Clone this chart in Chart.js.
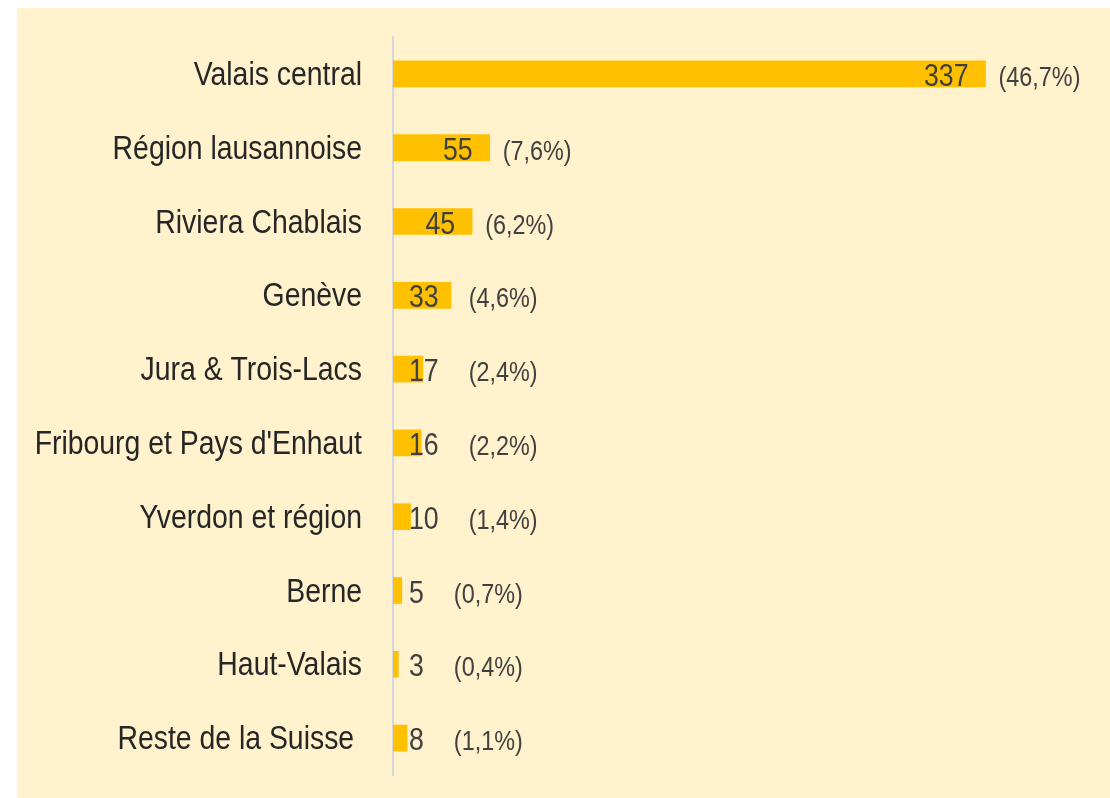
<!DOCTYPE html>
<html>
<head>
<meta charset="utf-8">
<script src="https://cdn.jsdelivr.net/npm/chart.js@4.4.0/dist/chart.umd.min.js"></script>
<style>
    html, body { margin: 0; padding: 0; background: #ffffff; }
    #wrap { width: 1110px; height: 798px; }
</style>
</head>
<body>
<div id="wrap"><canvas id="regions_chart" width="1110" height="798"></canvas></div>
<script>
const regions = [
    'Valais central', 'Région lausannoise', 'Riviera Chablais', 'Genève',
    'Jura & Trois-Lacs', "Fribourg et Pays d'Enhaut", 'Yverdon et région',
    'Berne', 'Haut-Valais', 'Reste de la Suisse '
];

const counts = [337, 55, 45, 33, 17, 16, 10, 5, 3, 8];

const shares = ['46,7', '7,6', '6,2', '4,6', '2,4', '2,2', '1,4', '0,7', '0,4', '1,1'];

// no narrow face installed, so squeeze Liberation Sans horizontally
const FONT = "'Liberation Sans', Arial, sans-serif";
const SQUEEZE = 0.835;

function narrowWidth(ctx, text) {
    return ctx.measureText(text).width * SQUEEZE;
}

function drawNarrow(ctx, text, x, y, align) {
    ctx.save();
    ctx.translate(x, y);
    ctx.scale(SQUEEZE, 1);
    ctx.textAlign = align;
    ctx.textBaseline = 'alphabetic';
    ctx.fillText(text, 0, 0);
    ctx.restore();
}

// cream panel behind everything
const panelBackground = {
    id: 'panelBackground',
    beforeDraw(chart) {
        const ctx = chart.ctx;
        ctx.save();
        ctx.fillStyle = '#FFF2CC';
        ctx.fillRect(17, 8, chart.width - 17, chart.height - 8);
        ctx.restore();
    }
};

// region names left of the axis
const regionLabels = {
    id: 'regionLabels',
    afterDraw(chart) {
        const ctx = chart.ctx;
        const y = chart.scales.y;
        ctx.save();
        ctx.font = '34px ' + FONT;
        ctx.fillStyle = '#262626';
        regions.forEach((name, i) => {
            drawNarrow(ctx, name, y.right - 31, y.getPixelForValue(i) + 11, 'right');
        });
        ctx.restore();
    }
};

// count at the end of each bar, share in brackets after it
const barLabels = {
    id: 'barLabels',
    afterDatasetsDraw(chart) {
        const ctx = chart.ctx;
        const meta = chart.getDatasetMeta(0);
        const base = chart.scales.x.getPixelForValue(0);
        ctx.save();
        ctx.fillStyle = '#404040';
        meta.data.forEach((bar, i) => {
            const baseline = bar.y + 12;
            const text = String(counts[i]);
            ctx.font = '32px ' + FONT;
            const w = narrowWidth(ctx, text);
            const left = Math.max(bar.x - 17 - w, base + 16);
            drawNarrow(ctx, text, left, baseline, 'left');

            ctx.font = '28px ' + FONT;
            drawNarrow(ctx, '(' + shares[i] + '%)', left + w + 30, baseline, 'left');
        });
        ctx.restore();
    }
};

const ctx = document.getElementById('regions_chart').getContext('2d');
new Chart(ctx, {
    type: 'bar',
    data: {
        labels: regions,
        datasets: [{
            data: counts,
            backgroundColor: '#FFC000',
            borderWidth: 0,
            barThickness: 26
        }]
    },
    options: {
        indexAxis: 'y',
        responsive: false,
        animation: false,
        layout: {
            padding: { top: 37, bottom: 23, left: 0, right: 84 }
        },
        plugins: {
            legend: { display: false },
            tooltip: { enabled: false }
        },
        scales: {
            x: {
                display: false,
                min: 0,
                max: 360
            },
            y: {
                grid: { display: false, drawTicks: false },
                border: { display: true, color: '#D5D5DE', width: 2 },
                ticks: { display: false },
                afterFit(scale) {
                    scale.width = 393;
                    scale.paddingTop = 0;
                    scale.paddingBottom = 0;
                }
            }
        }
    },
    plugins: [panelBackground, regionLabels, barLabels]
});
</script>
</body>
</html>
